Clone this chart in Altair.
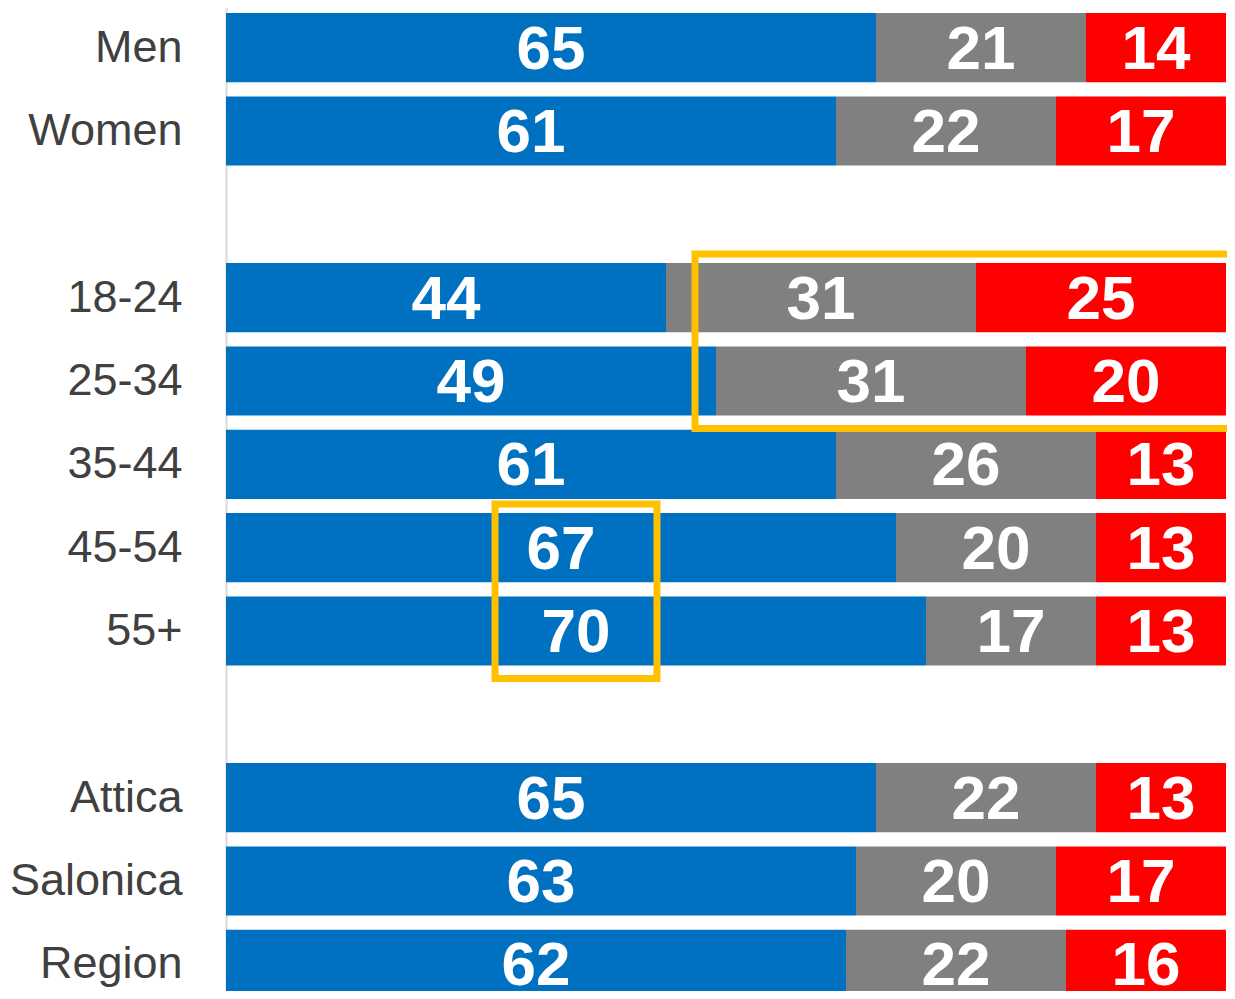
import altair as alt
import pandas as pd

# ---- data ----
groups = ["Men", "Women", "18-24", "25-34", "35-44", "45-54", "55+", "Attica", "Salonica", "Region"]
positive = [65, 61, 44, 49, 61, 67, 70, 65, 63, 62]
neutral = [21, 22, 31, 31, 26, 20, 17, 22, 20, 22]
negative = [14, 17, 25, 20, 13, 13, 13, 13, 17, 16]
row_order = ["Men", "Women", "gap1", "18-24", "25-34", "35-44", "45-54", "55+", "gap2",
             "Attica", "Salonica", "Region"]
series = ["Positive", "Neutral", "Negative"]
series_colors = ["#0070C0", "#808080", "#FF0000"]

# highlight boxes (in data units)
box_x0 = [46.9, 26.9]
box_x1 = [101.5, 43.1]
box_top = ["18-24", "45-54"]
box_bottom = ["25-34", "55+"]

rows = []
for g, p, n, m in zip(groups, positive, neutral, negative):
    for k, (s, v) in enumerate(zip(series, [p, n, m])):
        rows.append({"group": g, "series": s, "value": v, "order": k})
df = pd.DataFrame(rows)
boxes = pd.DataFrame({"x0": box_x0, "x1": box_x1, "top": box_top, "bottom": box_bottom})

y_scale = alt.Scale(domain=row_order, range=[-2, 998], paddingInner=0.17, paddingOuter=0.085)
x_scale = alt.Scale(domain=[0, 100], nice=False, zero=True)

base = alt.Chart(df).transform_stack(
    stack="value", groupby=["group"], as_=["x0", "x1"],
    sort=[alt.SortField("order", order="ascending")]
).transform_calculate(mid="(datum.x0 + datum.x1) / 2")

bars = base.mark_bar().encode(
    y=alt.Y("group:N", scale=y_scale, title=None,
            axis=alt.Axis(labelExpr="indexof(datum.label, 'gap') == 0 ? '' : datum.label",
                          ticks=False, labelPadding=44, labelFontSize=45,
                          labelFont="Liberation Sans", labelColor="#404040",
                          domainColor="#D9D9D9", domainWidth=2, labelLimit=400)),
    x=alt.X("x0:Q", scale=x_scale, axis=None),
    x2="x1:Q",
    color=alt.Color("series:N", scale=alt.Scale(domain=series, range=series_colors), legend=None),
)

labels = base.mark_text(color="white", fontSize=62, fontWeight="bold",
                        font="Liberation Sans", baseline="middle", align="center", dy=2).encode(
    y=alt.Y("group:N", scale=y_scale),
    x=alt.X("mid:Q", scale=x_scale),
    text="value:Q",
)

box = alt.Chart(boxes).mark_rect(fill=None, fillOpacity=0, stroke="#FFC000", strokeWidth=7,
                                 clip=False, yOffset=-9, y2Offset=13).encode(
    y=alt.Y("top:N", scale=y_scale, bandPosition=0),
    y2=alt.Y2("bottom:N", bandPosition=1),
    x=alt.X("x0:Q", scale=x_scale),
    x2="x1:Q",
)

chart = alt.layer(bars, labels, box).properties(
    width=1000, height=983,
    autosize=alt.AutoSizeParams(type="none"),
    padding={"left": 218, "top": 0, "right": 1, "bottom": 0},
).configure_view(stroke=None)

chart.save("out.html", embed_options={"renderer": "svg", "actions": False})
